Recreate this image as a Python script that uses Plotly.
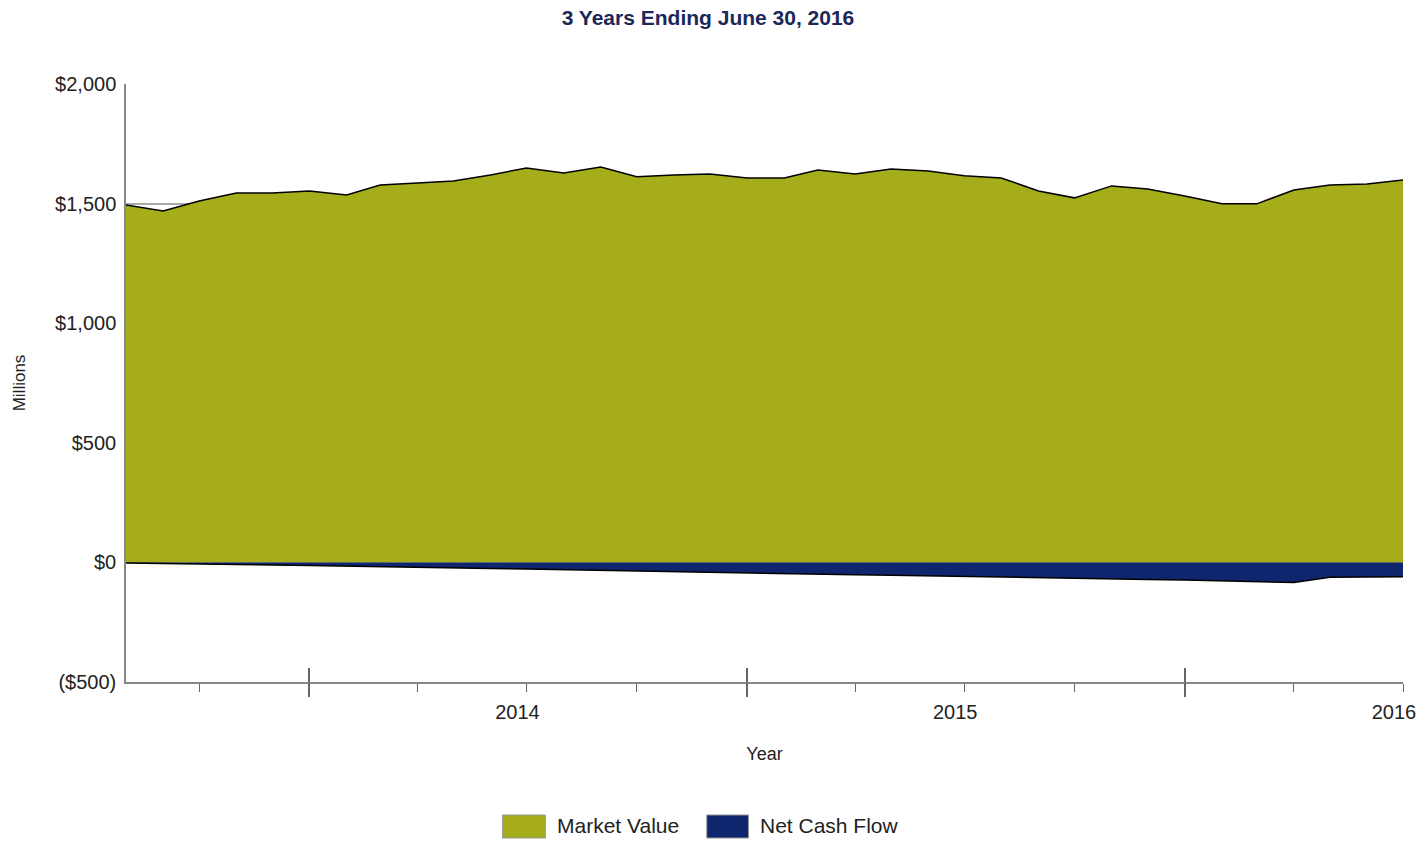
# Libraries
import pandas as pd
import plotly.graph_objects as go

# Data (millions, month end)
months = pd.date_range("2013-07-31", periods=36, freq="ME")

market_value = [
    1494, 1469, 1511, 1544, 1544, 1553, 1536, 1578, 1586, 1595, 1620, 1649,
    1628, 1653, 1612, 1620, 1624, 1607, 1607, 1640, 1624, 1645, 1636, 1616,
    1607, 1553, 1524, 1574, 1561, 1532, 1499, 1499, 1557, 1578, 1582, 1599,
]
net_cash_flow = [
    -2, -5, -7, -9, -11, -13, -15, -18, -21, -23, -25, -28,
    -31, -34, -37, -39, -42, -45, -48, -50, -52, -54, -56, -59,
    -62, -64, -66, -69, -71, -74, -78, -81, -84, -62, -60, -60,
]

# Axis ticks
quarter_ticks = ["2013-09-30", "2014-03-31", "2014-06-30", "2014-09-30",
                 "2015-03-31", "2015-06-30", "2015-09-30", "2016-03-31",
                 "2016-06-30"]
quarter_text = ["", "", "2014", "", "", "2015", "", "", "2016"]
year_end_ticks = ["2013-12-31", "2014-12-31", "2015-12-31"]
y_ticks = [-500, 0, 500, 1000, 1500, 2000]
y_text = ["($500)", "$0", "$500", "$1,000", "$1,500", "$2,000"]

# Legend entries
legend_names = ["Market Value", "Net Cash Flow"]

GREEN = "#A5AE1A"
NAVY = "#0F266E"
x_range = [months[0], months[-1]]

fig = go.Figure()

# Filled areas
fig.add_trace(go.Scatter(
    x=months, y=market_value, fill="tozeroy", mode="lines",
    fillcolor=GREEN, line=dict(width=1.5, color="black"), name=legend_names[0],
    showlegend=False,
))
fig.add_trace(go.Scatter(
    x=months, y=net_cash_flow, fill="tozeroy", mode="lines",
    fillcolor=NAVY, line=dict(width=1.5, color="black"), name=legend_names[1],
    showlegend=False,
))

# Empty traces so the extra tick axes are drawn
fig.add_trace(go.Scatter(x=[], y=[], xaxis="x2", showlegend=False))
fig.add_trace(go.Scatter(x=[], y=[], xaxis="x3", showlegend=False))

tick_font = dict(family="Liberation Sans, Arial, sans-serif", size=20, color="#222")

# Legend drawn as boxes + labels (paper coords)
legend_boxes = [(0.2949, 0.3284, GREEN), (0.4548, 0.4875, NAVY)]
for (x0, x1, color), name in zip(legend_boxes, legend_names):
    fig.add_shape(type="rect", xref="paper", yref="paper",
                  x0=x0, x1=x1, y0=-0.2609, y1=-0.2224,
                  fillcolor=color, line=dict(color="#999", width=1))
    fig.add_annotation(xref="paper", yref="paper", x=x1 + 0.0078, y=-0.2408,
                       text=name, showarrow=False, xanchor="left", yanchor="middle",
                       font=dict(family="Liberation Sans, Arial", size=21, color="#222"))

fig.update_layout(
    width=1428,
    height=841,
    paper_bgcolor="white",
    plot_bgcolor="white",
    showlegend=False,
    margin=dict(l=126, r=21, t=84, b=159),
    title=dict(
        text="<b>3 Years Ending June 30, 2016</b>",
        x=0.4958, y=0.9786, xanchor="center", yanchor="middle",
        font=dict(family="Liberation Sans Narrow, Arial Narrow, Arial", size=21, color="#1B2859"),
    ),
    xaxis=dict(
        type="date", range=x_range,
        tickvals=quarter_ticks, ticktext=quarter_text,
        ticks="outside", ticklen=8, tickcolor="#666", tickwidth=1,
        ticklabelstandoff=3, ticklabelshift=-9, ticklabeloverflow="allow",
        showline=True, linecolor="#888", linewidth=2,
        showgrid=False, zeroline=False,
        tickfont=tick_font,
        title=dict(text="Year", standoff=25,
                   font=dict(family="Liberation Sans, Arial", size=18, color="#222")),
    ),
    xaxis2=dict(
        type="date", range=x_range, overlaying="x", anchor="y", side="bottom",
        tickvals=year_end_ticks, ticks="outside", ticklen=14,
        tickcolor="#666", tickwidth=1.5, showticklabels=False,
        showgrid=False, zeroline=False, showline=False,
    ),
    xaxis3=dict(
        type="date", range=x_range, overlaying="x", anchor="y", side="bottom",
        tickvals=year_end_ticks, ticks="inside", ticklen=14,
        tickcolor="#666", tickwidth=1.5, showticklabels=False,
        showgrid=False, zeroline=False, showline=False,
    ),
    yaxis=dict(
        range=[-500, 2000], tickvals=y_ticks, ticktext=y_text,
        showline=True, linecolor="#888", linewidth=1.5,
        showgrid=True, gridcolor="#aaa", gridwidth=1.5,
        zeroline=False, ticks="", ticklabelstandoff=4,
        tickfont=tick_font,
        title=dict(text="Millions", standoff=25,
                   font=dict(family="Liberation Sans, Arial", size=17, color="#222")),
    ),
)

# Page without the default body margin / scrollbars
fig.write_html(
    "out.html",
    config={"displayModeBar": False},
    post_script="document.body.style.margin='0';document.body.style.overflow='hidden';",
)
